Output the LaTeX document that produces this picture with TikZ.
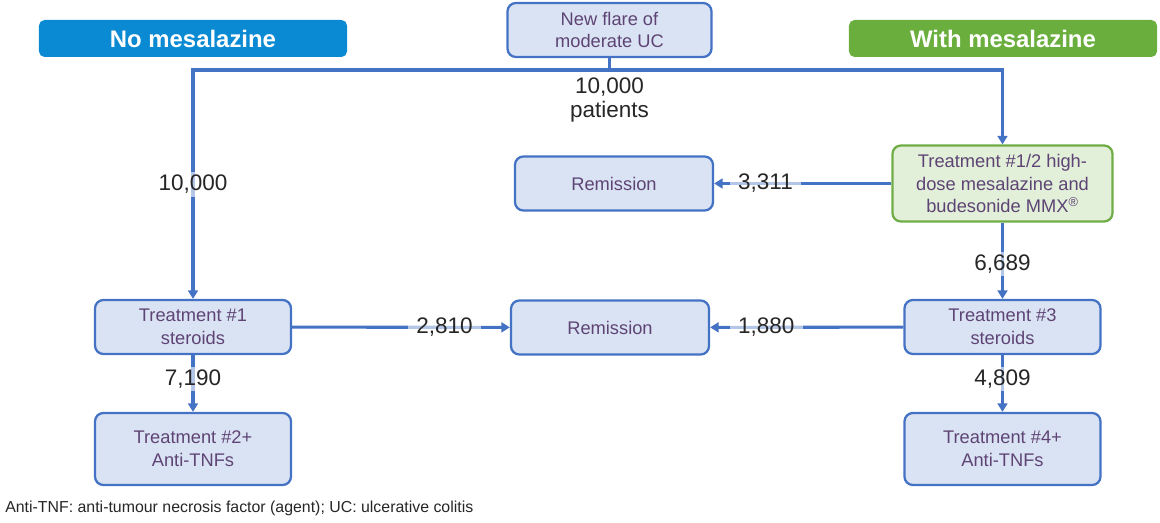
\documentclass[tikz,border=0pt]{standalone}
\usepackage{fontspec}
\setmainfont{Liberation Sans}
\usepackage{tikz}
\usetikzlibrary{arrows.meta,positioning,calc}
\usepackage{xcolor}
\definecolor{flow}{HTML}{4472C4}
\definecolor{boxfill}{HTML}{DAE3F3}
\definecolor{greenfill}{HTML}{E2F0D9}
\definecolor{greenline}{HTML}{70AD47}
\definecolor{nomes}{HTML}{0A8AD2}
\definecolor{withmes}{HTML}{6AAF3D}
\definecolor{ink}{HTML}{5E4475}
\tikzset{
  >={Triangle[length=6pt,width=7pt]},
  box/.style={draw=flow,line width=1.6pt,rounded corners=6pt,fill=boxfill,minimum height=13.5mm,minimum width=49mm,align=center,inner sep=2pt,text=ink,font=\fontsize{13}{16.3}\selectfont},
  greenbox/.style={box,fill=greenfill,draw=greenline},
  header/.style={rounded corners=4pt,minimum height=9.25mm,minimum width=77mm,text=white,font=\fontsize{17}{20}\selectfont\bfseries},
  arrow/.style={->,line width=2.2pt,draw=flow},
  label/.style={font=\fontsize{16}{17}\selectfont,align=center,fill=white,fill opacity=0.6,text opacity=1,inner xsep=6pt,inner ysep=2pt,text=black!85},
  note/.style={font=\fontsize{11.3}{13}\selectfont,anchor=west,inner sep=0pt,text=black!85},
}

\begin{document}
\begin{tikzpicture}[x=0.025cm,y=-0.025cm]
\useasboundingbox (0,0) rectangle (1160,523);

% headers
\node[header,fill=nomes] (nohead) at (193,38.5) {No mesalazine};
\node[header,fill=withmes] (withhead) at (1003,38.5) {With mesalazine};

% start
\node[box,minimum width=51mm] (flare) at (609.5,30) {New flare of\\moderate UC};
\coordinate (split) at (609.5,70);

% no mesalazine arm
\node[box] (treat1) at (193,327) {Treatment \#1\\steroids};
\node[box,minimum height=18mm] (treat2) at (193,449) {Treatment \#2+\\Anti-TNFs};

% with mesalazine arm
\node[greenbox,minimum width=55mm,minimum height=19mm] (treat12) at (1002.5,183.5)
{Treatment \#1/2 high-\\dose mesalazine and\\budesonide MMX\textsuperscript{\textregistered}};
\node[box] (treat3) at (1002.5,327) {Treatment \#3\\steroids};
\node[box,minimum height=18mm] (treat4) at (1002.5,449) {Treatment \#4+\\Anti-TNFs};

% remission
\node[box,minimum width=49.5mm] (remtop) at (614,183.5) {Remission};
\node[box,minimum width=49.5mm] (remmid) at (610,327.5) {Remission};

\draw[arrow,-] (flare) -- (split);
\draw[arrow] (split) -| node[label,pos=0.75] {10,000} (treat1.north);
\draw[arrow] (split) -| (treat12.north);
\node[label,minimum width=41mm] (patients) at (609.5,100) {10,000\\patients};

\draw[arrow] (treat12) -- node[label,pos=0.71] {3,311} (remtop);
\draw[arrow] (treat12) -- node[label,pos=0.54] {6,689} (treat3);
\draw[arrow] (treat1) -- node[label,pos=0.70] {2,810} (remmid);
\draw[arrow] (treat3) -- node[label,pos=0.71] {1,880} (remmid);
\draw[arrow] (treat1) -- node[label,pos=0.42] {7,190} (treat2);
\draw[arrow] (treat3) -- node[label,pos=0.42] {4,809} (treat4);

\node[note] (foot) at (5,508) {Anti-TNF: anti-tumour necrosis factor (agent); UC: ulcerative colitis};

\end{tikzpicture}
\end{document}
